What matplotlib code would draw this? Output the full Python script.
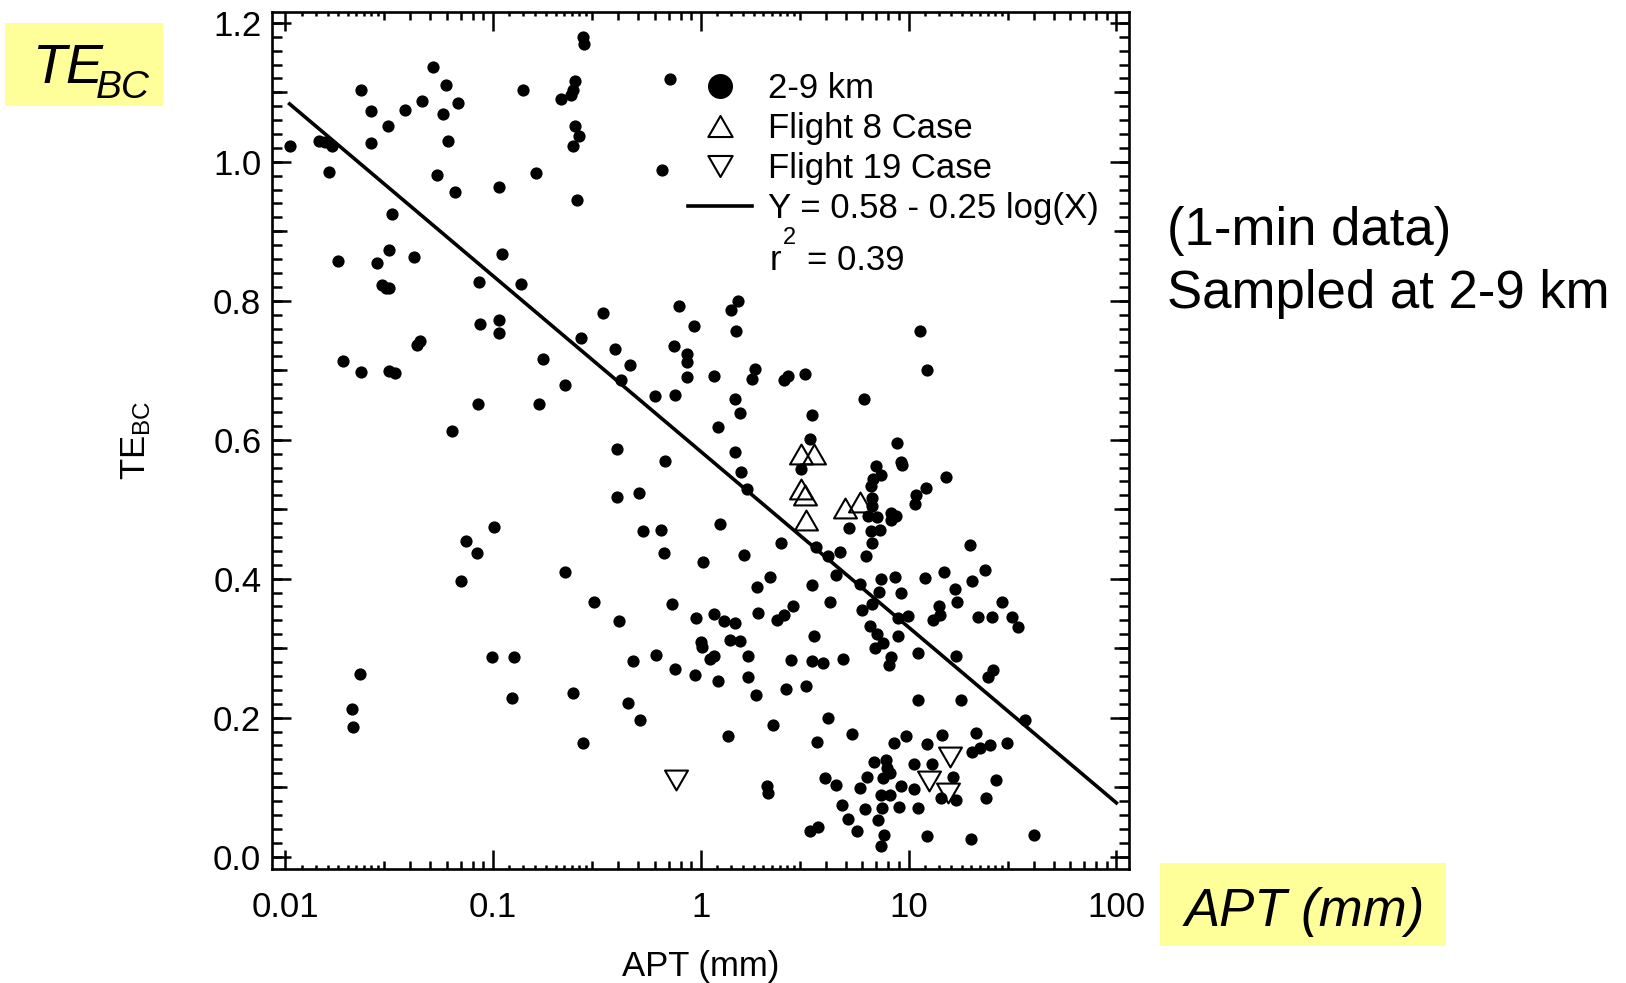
import matplotlib
matplotlib.use("Agg")
import matplotlib.pyplot as plt
import matplotlib.patches as patches
from matplotlib.lines import Line2D
from matplotlib.path import Path
from matplotlib.ticker import (FixedLocator, FixedFormatter, MultipleLocator,
                               NullLocator, NullFormatter)
import numpy as np

# Data: APT (mm) vs TE_BC, 1-min data at 2-9 km.
# Left part of the plot (APT < ~0.8 mm).
apt_left = [0.0105, 0.0146, 0.0155, 0.0168, 0.0162, 0.0231, 0.0259, 0.0259, 0.0312, 0.0379,
            0.0455, 0.0516, 0.0593, 0.0573, 0.0607, 0.0681, 0.0535, 0.0658, 0.1064, 0.1387,
            0.161, 0.212, 0.237, 0.2434, 0.249, 0.270, 0.273, 0.249, 0.258, 0.244,
            0.254, 0.654, 0.708, 0.0180, 0.0190, 0.0231, 0.0278, 0.0316, 0.0327, 0.0291,
            0.0304, 0.0316, 0.0316, 0.0338, 0.0415, 0.043, 0.0445, 0.0636, 0.0857, 0.0867,
            0.0848, 0.1064, 0.1064, 0.110, 0.137, 0.1746, 0.1667, 0.222, 0.264, 0.0209,
            0.0211, 0.0229, 0.0738, 0.0837, 0.0705, 0.1016, 0.0994, 0.1265, 0.1236, 0.222,
            0.244, 0.270, 0.306, 0.402, 0.473, 0.447, 0.509, 0.612, 0.728, 0.749]
te_left = [1.022, 1.030, 1.028, 1.022, 0.985, 1.104, 1.073, 1.027, 1.052, 1.075,
           1.087, 1.137, 1.110, 1.069, 1.030, 1.085, 0.981, 0.957, 0.964, 1.104,
           0.984, 1.090, 1.096, 1.103, 1.116, 1.179, 1.169, 1.052, 1.037, 1.022,
           0.945, 0.988, 1.119, 0.857, 0.713, 0.697, 0.854, 0.873, 0.925, 0.822,
           0.818, 0.818, 0.699, 0.696, 0.863, 0.737, 0.742, 0.612, 0.827, 0.767,
           0.652, 0.772, 0.754, 0.867, 0.824, 0.716, 0.651, 0.679, 0.746, 0.213,
           0.187, 0.263, 0.454, 0.437, 0.397, 0.475, 0.287, 0.288, 0.228, 0.409,
           0.236, 0.163, 0.366, 0.339, 0.282, 0.221, 0.196, 0.290, 0.363, 0.270]

# Middle band (TE_BC ~0.42-0.8).
apt_mid = [0.337, 0.787, 1.51, 1.40, 0.929, 1.47, 0.386, 0.747, 0.860, 0.860,
           0.456, 0.415, 0.860, 1.155, 1.82, 1.77, 2.51, 2.63, 3.16, 11.4,
           12.3, 6.11, 0.603, 0.753, 1.46, 1.54, 1.216, 3.43, 3.37, 0.396,
           0.669, 1.46, 1.56, 1.66, 3.02, 8.80, 9.16, 9.30, 7.00, 7.34,
           6.74, 6.62, 15.2, 12.1, 10.8, 10.7, 6.69, 6.69, 6.38, 7.08,
           8.26, 8.73, 8.20, 5.17, 6.62, 7.26, 6.67, 6.27, 4.70, 4.11,
           3.60, 2.44, 19.7, 0.528, 0.640, 0.664, 1.03, 1.61, 1.24, 0.397, 0.505]
te_mid = [0.782, 0.792, 0.800, 0.787, 0.764, 0.757, 0.731, 0.735, 0.724, 0.712,
          0.708, 0.686, 0.690, 0.692, 0.702, 0.688, 0.686, 0.692, 0.695, 0.757,
          0.701, 0.659, 0.663, 0.665, 0.659, 0.639, 0.618, 0.636, 0.601, 0.586,
          0.569, 0.583, 0.553, 0.529, 0.558, 0.595, 0.568, 0.564, 0.562, 0.549,
          0.543, 0.533, 0.546, 0.530, 0.520, 0.507, 0.516, 0.504, 0.490, 0.489,
          0.495, 0.490, 0.485, 0.473, 0.468, 0.470, 0.452, 0.432, 0.439, 0.433,
          0.446, 0.451, 0.448, 0.468, 0.470, 0.437, 0.424, 0.434, 0.478, 0.518, 0.523]

# Lower right cluster (APT > ~0.9 mm, TE_BC < ~0.42).
apt_low = [4.49, 5.82, 7.40, 8.58, 7.18, 9.23, 11.96, 14.8, 20.3, 23.2,
           16.8, 17.1, 14.0, 14.2, 13.1, 6.69, 5.99, 8.90, 9.94, 21.6,
           25.3, 28.2, 31.4, 33.6, 1.87, 2.16, 3.44, 4.20, 2.78, 2.51,
           2.33, 1.89, 0.946, 1.155, 1.30, 1.46, 1.00, 1.015, 1.38, 1.55,
           1.69, 1.11, 1.155, 0.936, 1.216, 1.68, 1.85, 2.58, 3.20, 2.72,
           3.44, 3.88, 4.84, 3.51, 6.50, 7.05, 7.53, 6.87, 8.93, 8.26,
           8.05, 11.1, 17.0, 25.5, 24.1, 11.1, 17.9, 36.2, 4.10, 2.23,
           1.35, 3.64, 5.36, 9.76, 8.54, 12.3, 14.5, 21.2, 20.3, 22.0,
           24.6, 29.8, 6.82, 7.82, 7.88, 8.11, 7.53, 6.34, 10.6, 13.0,
           16.4, 26.2, 3.98, 4.49, 5.82, 9.23, 10.6, 7.40, 8.11, 14.4,
           17.0, 23.7, 4.78, 6.20, 7.45, 8.99, 11.1, 2.08, 2.11, 5.09,
           7.13, 5.65, 3.34, 3.67, 7.59, 7.37, 12.2, 19.9, 40.1]
te_low = [0.405, 0.392, 0.399, 0.402, 0.381, 0.380, 0.401, 0.409, 0.396, 0.413,
          0.385, 0.366, 0.360, 0.348, 0.341, 0.364, 0.355, 0.343, 0.346, 0.345,
          0.345, 0.366, 0.345, 0.331, 0.388, 0.402, 0.391, 0.366, 0.361, 0.348,
          0.340, 0.350, 0.343, 0.349, 0.339, 0.336, 0.309, 0.302, 0.312, 0.311,
          0.289, 0.284, 0.289, 0.261, 0.253, 0.259, 0.233, 0.241, 0.245, 0.283,
          0.281, 0.278, 0.284, 0.318, 0.332, 0.320, 0.308, 0.300, 0.318, 0.287,
          0.276, 0.293, 0.289, 0.269, 0.258, 0.225, 0.225, 0.197, 0.200, 0.190,
          0.174, 0.165, 0.176, 0.174, 0.164, 0.162, 0.175, 0.178, 0.150, 0.156,
          0.160, 0.164, 0.136, 0.139, 0.127, 0.121, 0.113, 0.114, 0.134, 0.133,
          0.114, 0.110, 0.113, 0.103, 0.099, 0.102, 0.098, 0.089, 0.089, 0.085,
          0.082, 0.085, 0.075, 0.068, 0.070, 0.072, 0.070, 0.101, 0.091, 0.054,
          0.053, 0.037, 0.037, 0.043, 0.031, 0.016, 0.029, 0.025, 0.031]

# Flight cases
f8_apt = [3.03, 3.51, 3.03, 3.19, 3.22, 4.93, 5.82]
f8_te = [0.580, 0.579, 0.529, 0.520, 0.484, 0.502, 0.511]
f19_apt = [0.758, 15.9, 12.6, 15.4]
f19_te = [0.110, 0.143, 0.109, 0.092]

# Fit line Y = a - b log(X), drawn between these APT values
fit_a = 0.583
fit_b = 0.2528
fit_apt = [0.0105, 100.0]

legend_labels = ["2-9 km", "Flight 8 Case", "Flight 19 Case", "Y = 0.58 - 0.25 log(X)"]
r2_text = "0.39"
x_ticks = [0.01, 0.1, 1, 10, 100]
x_ticklabels = ["0.01", "0.1", "1", "10", "100"]
y_ticks = [0.0, 0.2, 0.4, 0.6, 0.8, 1.0, 1.2]
y_ticklabels = ["0.0", "0.2", "0.4", "0.6", "0.8", "1.0", "1.2"]

plt.rcParams["font.family"] = ["Liberation Sans", "DejaVu Sans"]
plt.rcParams["mathtext.fontset"] = "custom"
plt.rcParams["mathtext.rm"] = "Liberation Sans"
plt.rcParams["mathtext.it"] = "Liberation Sans:italic"
plt.rcParams["mathtext.bf"] = "Liberation Sans:bold"

W, H = 1626, 983
FS = 25  # tick labels, axis labels and legend
fig = plt.figure(figsize=(W / 100, H / 100), dpi=100)
ax = fig.add_axes([271.7 / W, 1 - 869 / H, (1129 - 271.7) / W, (869 - 11.7) / H])

# triangles with equal sides, centred on their box
tri_up = Path([(-1, -0.866), (1, -0.866), (0, 0.866), (-1, -0.866)], closed=True)
tri_down = Path([(-1, 0.866), (1, 0.866), (0, -0.866), (-1, 0.866)], closed=True)

apt_all = apt_left + apt_mid + apt_low
te_all = te_left + te_mid + te_low
ax.plot(apt_all, te_all, ls="none", marker="o", ms=8.8, mew=0, color="black", zorder=2)

fit_x = np.array(fit_apt)
ax.plot(fit_x, fit_a - fit_b * np.log10(fit_x), color="black", lw=2.6, zorder=3)

ax.plot(f8_apt, f8_te, ls="none", marker=tri_up, ms=16.5, mfc="none", mec="black",
        mew=1.5, zorder=4)
ax.plot(f19_apt, f19_te, ls="none", marker=tri_down, ms=16.5, mfc="none", mec="black",
        mew=1.5, zorder=4)

ax.set_xscale("log")
ax.set_xlim(0.00861, 115)
ax.set_ylim(-0.0178, 1.216)

ax.xaxis.set_major_locator(FixedLocator(x_ticks))
ax.xaxis.set_major_formatter(FixedFormatter(x_ticklabels))
ax.xaxis.set_minor_locator(FixedLocator([d * s for d in x_ticks for s in range(3, 10)]))
ax.xaxis.set_minor_formatter(NullFormatter())
ax.yaxis.set_major_locator(FixedLocator(y_ticks))
ax.yaxis.set_major_formatter(FixedFormatter(y_ticklabels))
ax.yaxis.set_minor_locator(MultipleLocator(0.1))

for s in ax.spines.values():
    s.set_linewidth(1.9)
ax.tick_params(which="both", direction="in", top=True, right=True, width=1.8,
               labelsize=FS)
ax.tick_params(which="major", length=13.5)
ax.tick_params(axis="x", which="minor", length=6)
ax.tick_params(axis="y", which="minor", length=10.5)
ax.tick_params(axis="x", which="major", pad=16)
ax.tick_params(axis="y", which="major", pad=7.5)

# third, finest level of ticks on an overlaid axes
ax2 = fig.add_axes(ax.get_position(), label="fine ticks")
ax2.set_xscale("log")
ax2.set_xlim(ax.get_xlim())
ax2.set_ylim(ax.get_ylim())
ax2.patch.set_visible(False)
for s in ax2.spines.values():
    s.set_visible(False)
ax2.xaxis.set_major_locator(NullLocator())
ax2.yaxis.set_major_locator(NullLocator())
fine_subs = [1.2, 1.4, 1.6, 1.8, 2.0, 2.2, 2.4, 2.6, 2.8]
ax2.xaxis.set_minor_locator(FixedLocator([d * s for d in x_ticks for s in fine_subs]))
ax2.yaxis.set_minor_locator(MultipleLocator(0.02))
ax2.xaxis.set_minor_formatter(NullFormatter())
ax2.yaxis.set_minor_formatter(NullFormatter())
ax2.tick_params(which="minor", direction="in", top=True, right=True, width=1.8)
ax2.tick_params(axis="x", which="minor", length=3.2)
ax2.tick_params(axis="y", which="minor", length=7.5)

ax.set_xlabel("APT (mm)", fontsize=FS)
ax.xaxis.set_label_coords(0.5, -0.095)
ax.set_ylabel("TE$_{\\mathrm{BC}}$", fontsize=FS)
ax.yaxis.set_label_coords(-0.138, 0.5)

handles = [
    Line2D([], [], ls="none", marker="o", ms=18, mew=0, color="black"),
    Line2D([], [], ls="none", marker=tri_up, ms=17.5, mfc="none", mec="black", mew=1.5),
    Line2D([], [], ls="none", marker=tri_down, ms=17.5, mfc="none", mec="black", mew=1.5),
    Line2D([], [], color="black", lw=2.6),
]
ax.legend(handles, legend_labels, loc="upper left",
          bbox_to_anchor=(688 / W, 1 - 72 / H), bbox_transform=fig.transFigure,
          frameon=False, fontsize=FS, handlelength=1.84, handletextpad=0.46,
          labelspacing=0.2, borderpad=0, borderaxespad=0)
# r^2 line under the legend
fig.text(770 / W, 1 - 270 / H, "r", fontsize=FS, ha="left", va="baseline")
fig.text(783 / W, 1 - 244 / H, "2", fontsize=17, ha="left", va="baseline")
fig.text(807 / W, 1 - 270 / H, "= " + r2_text, fontsize=FS, ha="left", va="baseline")

# yellow label boxes
fig.add_artist(patches.Rectangle((5 / W, 1 - 106 / H), 158 / W, 83 / H,
                                 transform=fig.transFigure, facecolor="#FFFF99",
                                 edgecolor="none"))
fig.add_artist(patches.Rectangle((1160 / W, 1 - 946 / H), 286 / W, 83 / H,
                                 transform=fig.transFigure, facecolor="#FFFF99",
                                 edgecolor="none"))
fig.text(32 / W, 1 - 83 / H, "TE", fontsize=40, fontstyle="italic",
         ha="left", va="baseline")
fig.text(96 / W, 1 - 98 / H, "BC", fontsize=28, fontstyle="italic",
         ha="left", va="baseline")
fig.text(1185 / W, 1 - 926 / H, "APT (mm)", fontsize=38, fontstyle="italic",
         ha="left", va="baseline")

fig.text(1167 / W, 1 - 245 / H, "(1-min data)", fontsize=38, ha="left", va="baseline")
fig.text(1167 / W, 1 - 308 / H, "Sampled at 2-9 km", fontsize=38, ha="left",
         va="baseline")

fig.savefig("out.png", dpi=100)
